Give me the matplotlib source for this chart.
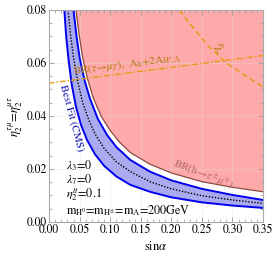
import matplotlib
matplotlib.use("Agg")
import matplotlib.pyplot as plt
import numpy as np

# ---- data ----
best_s = [0.031, 0.035, 0.040, 0.047, 0.055, 0.065, 0.075, 0.090, 0.110, 0.133, 0.165, 0.200, 0.250, 0.300, 0.350]
best_eta = [0.080, 0.071, 0.062, 0.053, 0.045, 0.0385, 0.0333, 0.0278, 0.0227, 0.0190, 0.0152, 0.0125, 0.0099, 0.0083, 0.0070]

up_s = [0.040, 0.045, 0.050, 0.058, 0.067, 0.080, 0.095, 0.110, 0.133, 0.165, 0.200, 0.250, 0.300, 0.350]
up_eta = [0.080, 0.070, 0.062, 0.0535, 0.0465, 0.0388, 0.0328, 0.0283, 0.0234, 0.0190, 0.0157, 0.0125, 0.0102, 0.0083]

lo_s = [0.025, 0.028, 0.032, 0.037, 0.044, 0.052, 0.062, 0.075, 0.090, 0.110, 0.133, 0.165, 0.200, 0.250, 0.300, 0.350]
lo_eta = [0.080, 0.070, 0.061, 0.052, 0.0435, 0.0368, 0.031, 0.0256, 0.0212, 0.0172, 0.0140, 0.0114, 0.0093, 0.0074, 0.0062, 0.0053]

red_s = [0.044, 0.049, 0.055, 0.063, 0.072, 0.085, 0.100, 0.115, 0.133, 0.165, 0.200, 0.250, 0.300, 0.350]
red_eta = [0.080, 0.071, 0.062, 0.054, 0.047, 0.0400, 0.0345, 0.0302, 0.0262, 0.0218, 0.0185, 0.0152, 0.0131, 0.0114]

taumu_s = [0.0, 0.35]
taumu_eta = [0.0524, 0.0628]

ah_s = [0.213, 0.235, 0.260, 0.290, 0.320, 0.350]
ah_eta = [0.080, 0.0735, 0.0665, 0.0600, 0.0553, 0.0510]

xticks = [0.00, 0.05, 0.10, 0.15, 0.20, 0.25, 0.30, 0.35]
yticks = [0.00, 0.02, 0.04, 0.06, 0.08]

params_text = [r'$\lambda_3$=0', r'$\lambda_7$=0', r'$\eta_2^{tt}$=0.1',
               r'm$_{\mathrm{H}^0}$=m$_{\mathrm{H}^{\pm}}$=m$_\mathrm{A}$=200GeV']

plt.rcParams['font.family'] = ['STIXGeneral', 'DejaVu Sans']
plt.rcParams['mathtext.fontset'] = 'stix'

fig = plt.figure(figsize=(2.74, 2.63), dpi=100)
ax = fig.add_axes([0.179, 0.156, 0.781, 0.806])

xmax, ymax = 0.35, 0.08

# red excluded region
ax.fill(list(red_s) + [xmax], list(red_eta) + [ymax], color='#ffaaaa', lw=0, zorder=1)
ax.plot(red_s, red_eta, color='#8a4a40', lw=0.9, zorder=3)

# blue band
ax.fill(list(up_s) + list(lo_s[::-1]), list(up_eta) + list(lo_eta[::-1]),
        color='#aaaaf0', lw=0, zorder=2)
ax.plot(up_s, up_eta, color='#0000ee', lw=1.4, zorder=3)
ax.plot(lo_s, lo_eta, color='#0000ee', lw=1.4, zorder=3)
ax.plot(best_s, best_eta, color='black', lw=1.0, ls=(0, (1, 1.2)), zorder=4)

# orange constraints
ax.plot(taumu_s, taumu_eta, color='#e8980c', lw=1.0, ls=(0, (4, 1.5, 1, 1.5)), zorder=4)
ax.plot(ah_s, ah_eta, color='#e8980c', lw=1.0, ls=(0, (4, 2.5)), zorder=4)

# texts
ax.text(0.040, 0.0556, r'BR($\tau\!\rightarrow\!\mu\gamma$),  A$_\mathrm{h}$+2A$_{\mathrm{H}^0\!,\mathrm{A}}$',
        color='#b27a12', fontsize=8, rotation=7.3, rotation_mode='anchor', zorder=5)
ax.text(0.278, 0.0630, r'A$_\mathrm{h}$', color='#b27a12', fontsize=8, rotation=62,
        rotation_mode='anchor', zorder=5)
ax.text(0.0365, 0.0392, 'Best Fit (CMS)', color='#1010b0', fontsize=8, rotation=-75,
        ha='center', va='center', zorder=5)
ax.text(0.252, 0.0178, r'BR(h$\!\rightarrow\!\tau^{\pm}\mu^{\mp}$)', color='#b06868', fontsize=8,
        rotation=-21, ha='center', va='center', zorder=5)

ax.text(0.028, 0.0016, '\n'.join(params_text), fontsize=8.7, linespacing=0.95,
        ha='left', va='bottom', zorder=5)

ax.set_xlim(0, xmax)
ax.set_ylim(0, ymax)
ax.set_xticks(xticks)
ax.set_yticks(yticks)
ax.set_xticklabels([f'{v:.2f}' for v in xticks])
ax.set_yticklabels([f'{v:.2f}' for v in yticks])
ax.set_xticks(np.arange(0, 0.351, 0.01), minor=True)
ax.set_yticks(np.arange(0, 0.0801, 0.005), minor=True)
ax.tick_params(which='both', direction='in', top=True, right=True, colors='#999999',
               labelcolor='black', labelsize=8.5, pad=1.5)
ax.tick_params(which='major', length=3.5, width=0.6)
ax.tick_params(which='minor', length=2, width=0.5)
ax.grid(True, which='major', color='#dddddd', lw=0.5, alpha=0.5, zorder=0)
for sp in ax.spines.values():
    sp.set_color('#aaaaaa')
    sp.set_linewidth(0.8)
    sp.set_zorder(6)

ax.set_xlabel(r'sin$\alpha$', fontsize=9, labelpad=3)
ax.set_ylabel(r'$\eta_2^{\tau\mu}$=$\eta_2^{\mu\tau}$', fontsize=9, labelpad=1)

fig.savefig('out.png', dpi=100)
